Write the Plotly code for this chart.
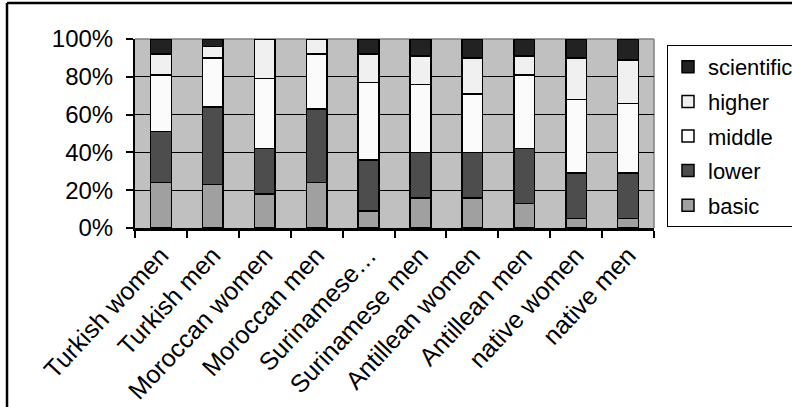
import plotly.graph_objects as go

# Groups along the x axis
categories = [
    "Turkish women", "Turkish men", "Moroccan women", "Moroccan men",
    "Surinamese…", "Surinamese men", "Antillean women", "Antillean men",
    "native women", "native men",
]

# Share of each education level per group (percent)
basic      = [24, 23, 18, 24,  9, 16, 16, 13,  5,  5]
lower      = [27, 41, 24, 39, 27, 24, 24, 29, 24, 24]
middle     = [30, 26, 37, 29, 41, 36, 31, 39, 39, 37]
higher     = [11,  6, 21,  8, 15, 15, 19, 10, 22, 23]
scientific = [ 8,  4,  0,  0,  8,  9, 10,  9, 10, 11]

y_ticks = [0, 20, 40, 60, 80, 100]
y_tick_labels = [f"{v}%" for v in y_ticks]

# stacked bottom-up; the legend lists them top-down
series = [
    ("basic", basic, "#a0a0a0"),
    ("lower", lower, "#4d4d4d"),
    ("middle", middle, "#fbfbfb"),
    ("higher", higher, "#f0f0f0"),
    ("scientific", scientific, "#222222"),
]

W, H = 792, 407
L, R, T, B = 135, 654, 39, 228.3


def px_x(x):
    return (x - L) / (R - L)


def px_y(y):
    return (B - y) / (B - T)


fig = go.Figure()
for i, (name, vals, color) in enumerate(series):
    fig.add_trace(go.Bar(
        x=categories, y=vals, name=name, legendgroup=name,
        legendrank=len(series) - i,
        marker=dict(color=color, line=dict(color="black", width=1.5)),
    ))

font = "Liberation Sans, Arial, sans-serif"

fig.update_layout(
    width=W, height=H,
    margin=dict(l=L, r=W - R, t=T, b=H - B, pad=0, autoexpand=False),
    paper_bgcolor="white",
    plot_bgcolor="#c0c0c0",
    barmode="stack",
    bargap=0.6,
    font=dict(family=font, size=22, color="black"),
    showlegend=True,
    legend=dict(
        traceorder="grouped",
        tracegroupgap=3,
        maxheight=300,
        x=px_x(667), xanchor="left",
        y=px_y(45), yanchor="top",
        bgcolor="white",
        bordercolor="black", borderwidth=1,
        font=dict(family=font, size=22),
        itemwidth=30,
    ),
    xaxis=dict(
        type="category",
        tickangle=-47,
        ticks="outside", ticklen=7, tickwidth=1.5, tickcolor="black",
        tickson="boundaries",
        showline=True, linecolor="black", linewidth=2.5,
        showgrid=False,
        tickfont=dict(family=font, size=25),
    ),
    yaxis=dict(
        range=[0, 100],
        tickmode="array",
        tickvals=y_ticks,
        ticktext=y_tick_labels,
        ticks="outside", ticklen=7, tickwidth=1.5, tickcolor="black",
        ticklabelstandoff=8,
        showline=True, linecolor="black", linewidth=2,
        showgrid=True, gridcolor="black", gridwidth=1.2,
        zeroline=False,
        tickfont=dict(family=font, size=24),
    ),
    shapes=[
        # outer chart frame (left and top edges)
        dict(type="line", xref="paper", yref="paper",
             x0=px_x(7), x1=px_x(7), y0=px_y(420), y1=px_y(3),
             line=dict(color="black", width=2.5), layer="above"),
        dict(type="line", xref="paper", yref="paper",
             x0=px_x(7), x1=px_x(900), y0=px_y(3), y1=px_y(3),
             line=dict(color="black", width=2.5), layer="above"),
        # plot area top/right border
        dict(type="line", xref="paper", yref="paper",
             x0=0, x1=1, y0=1, y1=1,
             line=dict(color="#808080", width=1.5), layer="below"),
        dict(type="line", xref="paper", yref="paper",
             x0=1, x1=1, y0=0, y1=1,
             line=dict(color="#808080", width=1.5), layer="below"),
    ],
    annotations=[
        dict(text="(in percentages)", xref="paper", yref="paper",
             x=px_x(213), y=px_y(1), xanchor="center", yanchor="bottom",
             showarrow=False,
             font=dict(family="Liberation Serif, Times New Roman, serif", size=18)),
    ],
)

fig.write_html("out.html")
